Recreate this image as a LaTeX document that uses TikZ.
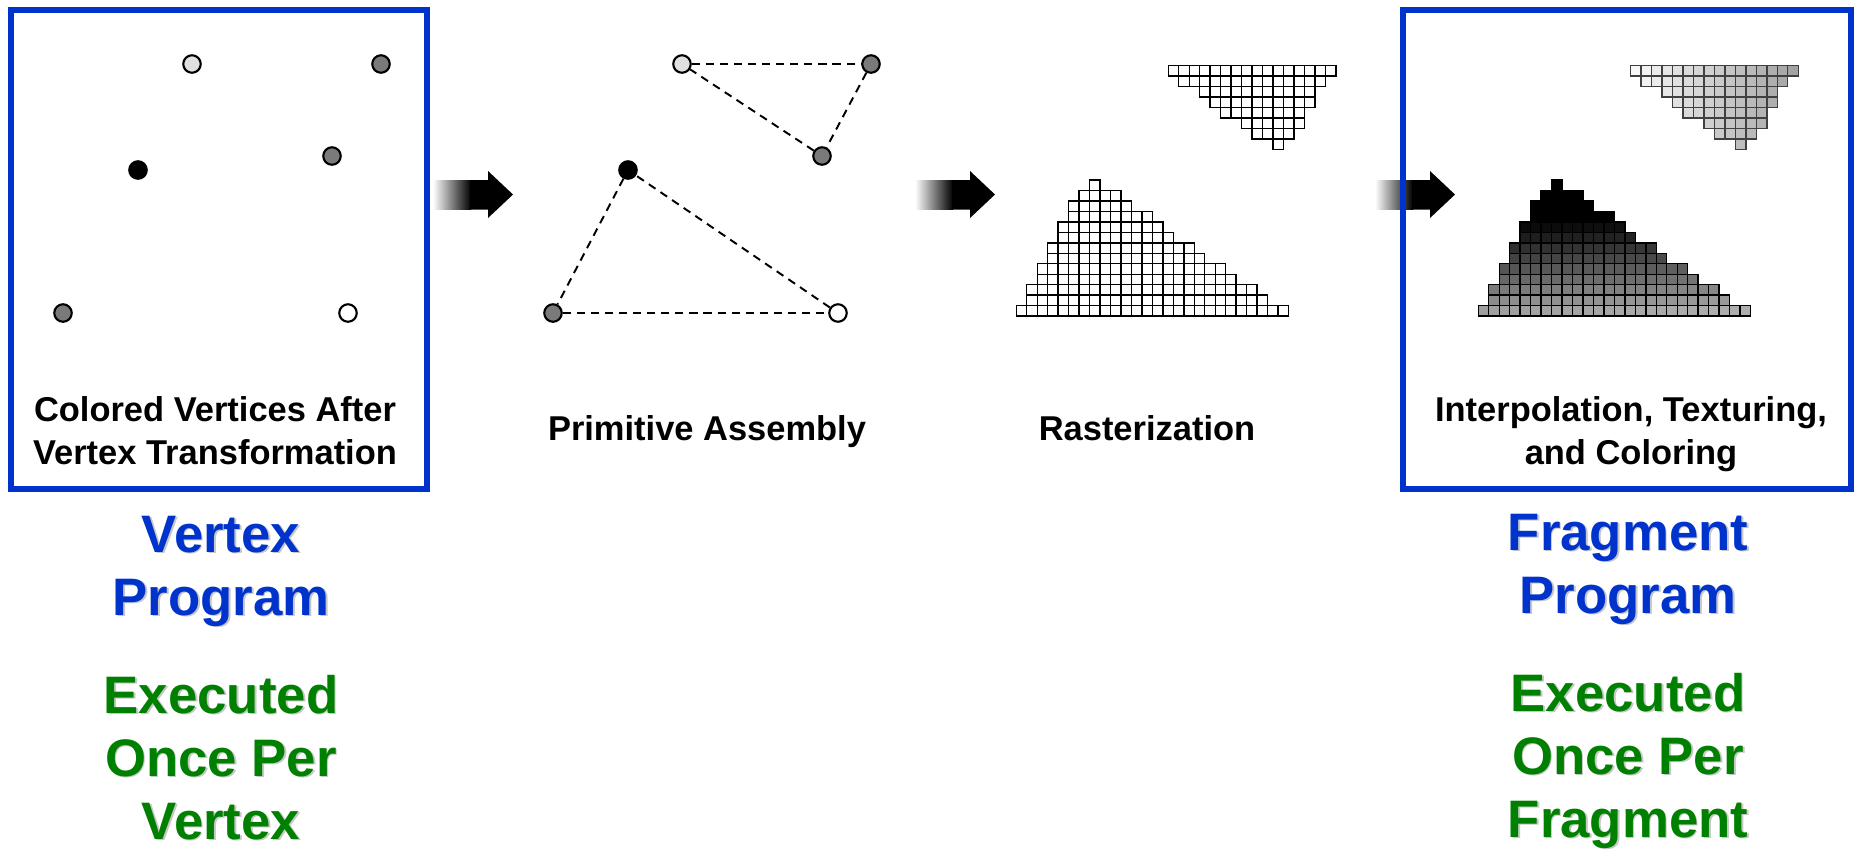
\documentclass[tikz,border=0pt]{standalone}
\usepackage{fontspec}
\setmainfont{Liberation Sans}
\definecolor{progblue}{HTML}{0033CC}
\definecolor{execgreen}{HTML}{008000}
% text with a soft drop shadow
\newcommand{\shd}[2]{\makebox[0pt][l]{\hspace{0.5pt}\raisebox{-0.5pt}{\color{black!22}#2}}\textcolor{#1}{#2}}
\begin{document}
\begin{tikzpicture}[x=0.01cm,y=-0.01cm,
  stagebox/.style={draw=progblue, line width=1.7pt, inner sep=0pt, fill=none},
  vtx/.style={circle, draw=black, line width=0.6pt, minimum size=0.175cm, inner sep=0pt},
  vlight/.style={vtx, fill=black!12},
  vgray/.style={vtx, fill=black!52},
  vblack/.style={vtx, fill=black},
  vwhite/.style={vtx, fill=white},
  wire/.style={line width=0.55pt, dash pattern=on 2.3pt off 1.7pt},
  caption/.style={font=\fontsize{9.8}{12.2}\selectfont\bfseries, align=center, anchor=base, inner sep=0pt},
  proglabel/.style={font=\fontsize{15}{17.9}\selectfont\bfseries, align=center, anchor=base, inner sep=0pt},
  cell/.style={draw=black, line width=0.4pt, fill=white},
  fragcell/.style={line width=0.4pt},
  blockbody/.style={left color=white, right color=black, draw=none},
]
\useasboundingbox (0,0) rectangle (1860,850);

% ---- block arrows between the stages
\foreach \s in {433,915,1375}{
  \fill[blockbody] (\s,180) rectangle ({\s+38},209.5);
  \fill[black] ({\s+37},180) -- ({\s+55},180) -- ({\s+55},171) -- ({\s+80},194.5)
     -- ({\s+55},218) -- ({\s+55},209.5) -- ({\s+37},209.5) -- cycle;
}

% ---- stage 1: transformed vertices
\node[stagebox, minimum width=4.16cm, minimum height=4.79cm] (vbox) at (219,249.5) {};
\node[vlight] (a1) at (192,64) {};
\node[vgray]  (b1) at (381,64) {};
\node[vgray]  (c1) at (332,156) {};
\node[vblack] (d1) at (138,170) {};
\node[vgray]  (e1) at (63,313) {};
\node[vwhite] (f1) at (348,313) {};
% multi-line nodes sit on the baseline of their last line
\node[caption] (cap1) at (215,464) {Colored Vertices After\\Vertex Transformation};

% ---- stage 2: primitive assembly
\node[vlight] (a2) at (682,64) {};
\node[vgray]  (b2) at (871,64) {};
\node[vgray]  (c2) at (822,156) {};
\node[vblack] (d2) at (628,170) {};
\node[vgray]  (e2) at (553,313) {};
\node[vwhite] (f2) at (838,313) {};
\draw[wire] (a2) -- (b2);
\draw[wire] (b2) -- (c2);
\draw[wire] (c2) -- (a2);
\draw[wire] (d2) -- (e2);
\draw[wire] (e2) -- (f2);
\draw[wire] (f2) -- (d2);
\node[caption] (cap2) at (707,440) {Primitive Assembly};

% ---- stage 3: rasterization (cell size 10.47)
\foreach \r/\a/\b in {0/0/15,1/1/14,2/3/13,3/4/13,4/5/12,5/7/12,6/8/11,7/10/10}{
  \foreach \j in {\a,...,\b}{
    \draw[cell] ({1168.3+\j*10.47},{65.7+\r*10.47}) rectangle ++(10.47,10.47);
  }
}
\foreach \r/\a/\b in {0/7/7,1/6/9,2/5/10,3/5/12,4/4/13,5/4/14,6/3/16,7/3/17,8/2/19,9/2/20,10/1/22,11/1/23,12/0/25}{
  \foreach \j in {\a,...,\b}{
    \draw[cell] ({1016.3+\j*10.47},{180+\r*10.47}) rectangle ++(10.47,10.47);
  }
}
\node[caption] (cap3) at (1147,440) {Rasterization};

% ---- stage 4: interpolated and textured fragments
\foreach \r/\a/\b in {0/0/15,1/1/14,2/3/13,3/4/13,4/5/12,5/7/12,6/8/11,7/10/10}{
  \foreach \j [evaluate=\j as \p using {3+\j*2.2}] in {\a,...,\b}{
    \draw[fragcell, draw=black!75, fill=black!\p] ({1630.7+\j*10.47},{65.7+\r*10.47}) rectangle ++(10.47,10.47);
  }
}
\foreach \r/\a/\b in {0/7/7,1/6/9,2/5/10,3/5/12,4/4/13,5/4/14,6/3/16,7/3/17,8/2/19,9/2/20,10/1/22,11/1/23,12/0/25}{
  \foreach \j [evaluate=\j as \p using {\r<4 ? 100 : 97-(\r-4)*7.4-\j*0.25}] in {\a,...,\b}{
    \draw[fragcell, draw=black, fill=black!\p] ({1478.3+\j*10.47},{180+\r*10.47}) rectangle ++(10.47,10.47);
  }
}
\node[stagebox, minimum width=4.48cm, minimum height=4.79cm] (fbox) at (1627,249.5) {};
\node[caption] (cap4) at (1631,464) {Interpolation, Texturing,\\and Coloring};

% ---- program labels
\node[proglabel] (vprog) at (221,615) {\shd{progblue}{Vertex}\\\shd{progblue}{Program}};
\node[proglabel] (vexec) at (221,839) {\shd{execgreen}{Executed}\\\shd{execgreen}{Once Per}\\\shd{execgreen}{Vertex}};
\node[proglabel] (fprog) at (1628,613) {\shd{progblue}{Fragment}\\\shd{progblue}{Program}};
\node[proglabel] (fexec) at (1628,837) {\shd{execgreen}{Executed}\\\shd{execgreen}{Once Per}\\\shd{execgreen}{Fragment}};
\end{tikzpicture}
\end{document}
